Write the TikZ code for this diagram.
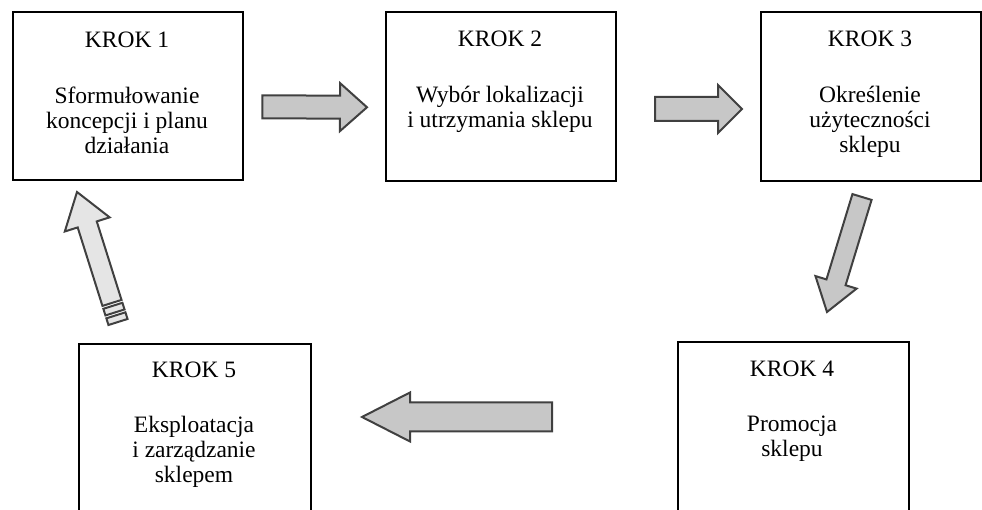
\documentclass[tikz,border=0pt]{standalone}
\usepackage{fontspec}
\setmainfont{Liberation Serif}
\usetikzlibrary{calc}
\tikzset{
  box/.style={draw=black, line width=2.4pt, fill=white},
  hdr/.style={anchor=base, inner sep=0pt, font=\fontsize{23.5}{25}\selectfont},
  body/.style={anchor=north, inner sep=0pt, align=center, font=\fontsize{23.5}{25}\selectfont},
  barrowstyle/.style={draw=black!75, line width=2pt, fill=black!22, line join=miter},
  lightarrow/.style={draw=black!75, line width=2pt, fill=black!10, line join=miter}
}
% #1 style, #2 tail, #3 tip, #4 half shaft, #5 half head, #6 head length
\newcommand\blockarrow[6]{%
  \coordinate (#3-b) at ($(#3)!#6!(#2)$);
  \draw[#1] ($(#2)!#4!90:(#3)$) -- ($(#3-b)!#4!-90:(#2)$) -- ($(#3-b)!#5!-90:(#2)$)
    -- (#3) -- ($(#3-b)!#5!90:(#2)$) -- ($(#3-b)!#4!90:(#2)$) -- ($(#2)!#4!-90:(#3)$) -- cycle;
}
\begin{document}
\begin{tikzpicture}[x=1pt,y=1pt]
\useasboundingbox (0,0) rectangle (982,510);
\clip (0,0) rectangle (982,510);
% boxes
\node[box, anchor=south west, minimum width=230pt, minimum height=168pt] (b1) at (12,329) {};
\node[box, anchor=south west, minimum width=230pt, minimum height=169pt] (b2) at (385,328) {};
\node[box, anchor=south west, minimum width=220pt, minimum height=169pt] (b3) at (760,328) {};
\node[box, anchor=south west, minimum width=231pt, minimum height=187pt] (b4) at (677,-20) {};
\node[box, anchor=south west, minimum width=232pt, minimum height=185pt] (b5) at (78,-20) {};
% texts
\node[hdr] (h1) at (127,462) {KROK 1};
\node[body] (t1) at (127,423) {Sformułowanie\\koncepcji i planu\\działania};
\node[hdr] (h2) at (500,463) {KROK 2};
\node[body] (t2) at (500,424) {Wybór lokalizacji\\i utrzymania sklepu};
\node[hdr] (h3) at (870,463) {KROK 3};
\node[body] (t3) at (870,424) {Określenie\\użyteczności\\sklepu};
\node[hdr] (h4) at (792,133) {KROK 4};
\node[body] (t4) at (792,94) {Promocja\\sklepu};
\node[hdr] (h5) at (194,132) {KROK 5};
\node[body] (t5) at (194,94) {Eksploatacja\\i zarządzanie\\sklepem};
% arrow end points
\coordinate (a1t) at ($(b1.east)+(18,-11)$);
\coordinate (a1h) at ($(b2.west)+(-18,-11)$);
\coordinate (a2t) at (655,401);
\coordinate (a2h) at (742,401);
\coordinate (a3t) at (862,313);
\coordinate (a3h) at (827,198);
\coordinate (a4t) at (552,93);
\coordinate (a4h) at (362,93);
\coordinate (a5t) at (118,188);
\coordinate (a5h) at (77,318);
\blockarrow{barrowstyle}{a1t}{a1h}{11.5pt}{24pt}{27pt}
\blockarrow{barrowstyle}{a2t}{a2h}{12pt}{24pt}{24pt}
\blockarrow{barrowstyle}{a3t}{a3h}{10pt}{21.5pt}{31pt}
\blockarrow{barrowstyle}{a4t}{a4h}{14.5pt}{24.5pt}{48pt}
% up arrow with banded tail
\coordinate (a5s) at ($(a5t)!20pt!(a5h)$);
\blockarrow{lightarrow}{a5s}{a5h}{10pt}{23.5pt}{34pt}
\coordinate (a5p) at ($(a5t)!10pt!(a5h)$);
\coordinate (a5q) at ($(a5t)!17pt!(a5h)$);
\coordinate (a5r) at ($(a5t)!7pt!(a5h)$);
\draw[lightarrow] ($(a5p)!10pt!90:(a5h)$) -- ($(a5q)!10pt!-90:(a5t)$) -- ($(a5q)!10pt!90:(a5t)$) -- ($(a5p)!10pt!-90:(a5h)$) -- cycle;
\draw[lightarrow] ($(a5t)!10pt!90:(a5h)$) -- ($(a5r)!10pt!-90:(a5t)$) -- ($(a5r)!10pt!90:(a5t)$) -- ($(a5t)!10pt!-90:(a5h)$) -- cycle;
\end{tikzpicture}
\end{document}
